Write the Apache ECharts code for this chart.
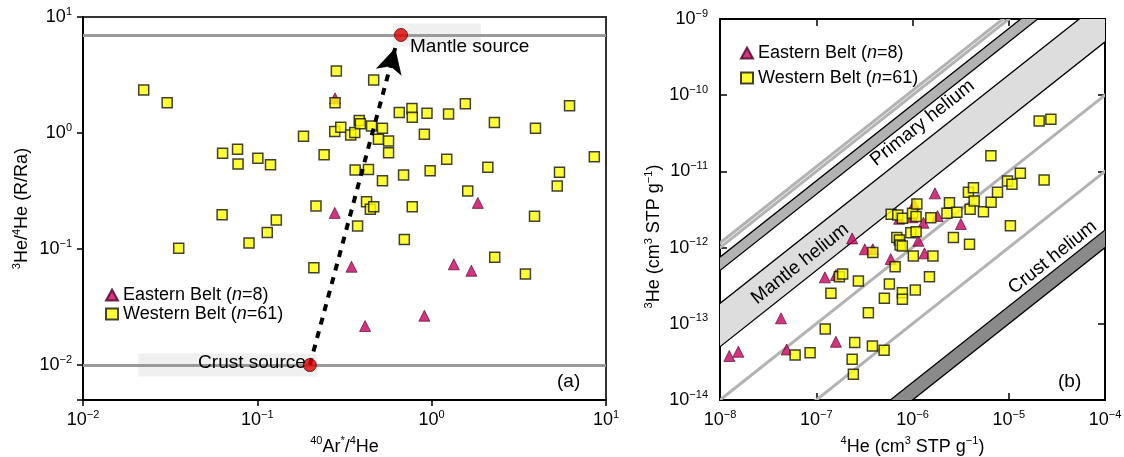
<!DOCTYPE html>
<html>
<head>
<meta charset="utf-8">
<title>helium isotopes</title>
<style>html,body{margin:0;padding:0;background:#fff}</style>
</head>
<body>
<div id="main" style="width:1124px;height:457px;"></div>
<script src="https://cdn.jsdelivr.net/npm/echarts@6/dist/echarts.min.js"></script>
<script>
// ---- panel (a): 40Ar*/4He vs 3He/4He (R/Ra)
var eastA = [[0.279,1.99],[0.278,0.205],[0.347,0.0704],[1.34,0.0738],[1.69,0.065],[1.84,0.25],[0.908,0.0266],[0.415,0.0217]];
var westA = [[0.0223,2.35],[0.0304,1.82],[0.184,0.94],[0.0632,0.668],[0.077,0.723],[0.0775,0.54],[0.1007,0.605],[0.119,0.533],
  [0.2416,0.65],[0.284,3.42],[0.279,1.82],[0.278,1.03],[0.217,0.235],[0.0628,0.198],[0.0354,0.1014],[0.0896,0.113],
  [0.114,0.139],[0.1285,0.178],[0.211,0.069],[0.465,2.86],[0.301,1.12],[0.343,0.96],[0.362,1.01],[0.384,1.28],[0.39,1.2],
  [0.452,1.15],[0.522,1.10],[0.495,0.883],[0.566,0.853],[0.566,0.676],[0.652,1.50],[0.771,1.63],[0.774,1.37],[0.94,1.48],
  [1.25,1.46],[1.56,1.79],[2.29,1.23],[3.94,1.10],[6.18,1.72],[8.57,0.625],[0.908,0.975],[1.22,0.593],[2.10,0.506],
  [5.41,0.458],[5.25,0.349],[0.364,0.48],[0.434,0.486],[0.522,0.388],[0.69,0.435],[0.98,0.473],[1.61,0.316],[0.423,0.256],
  [0.445,0.22],[0.465,0.232],[0.774,0.232],[3.89,0.192],[0.376,0.158],[0.697,0.121],[2.30,0.085],[3.45,0.0608]];
var sourcePts = [[0.667, 7], [0.2, 0.01]];
var sourceNames = ['Mantle source', 'Crust source'];
var refLevels = [7, 0.01];
var arrowEnd = [0.618, 5.4];

// ---- panel (b): 4He vs 3He
var eastB = [[1.25e-8,3.78e-14],[1.55e-8,4.3e-14],[4.3e-8,1.18e-13],[4.93e-8,4.6e-14],[1.23e-7,4.07e-13],[1.6e-7,4.37e-13],
  [1.6e-7,5.8e-14],[2.36e-7,1.32e-12],[3.19e-7,9.5e-13],[3.87e-7,9.5e-13],[5.94e-7,7.08e-13],[7.26e-7,2.39e-12],
  [1.04e-6,3.73e-12],[9.98e-7,2.5e-12],[1.15e-6,1.23e-12],[1.3e-6,2.12e-12],[1.33e-6,8.4e-13],[1.71e-6,5.15e-12],
  [1.82e-6,2.6e-12],[3.18e-6,2.04e-12]];
var westB = [[6.03e-8,3.9e-14],[8.63e-8,4.18e-14],[1.24e-7,8.55e-14],[1.42e-7,2.51e-13],[1.74e-7,4.15e-13],[1.88e-7,4.5e-13],
  [2.51e-7,5.7e-14],[2.36e-7,3.42e-14],[2.43e-7,2.17e-14],[2.74e-7,3.65e-13],[3.48e-7,1.4e-13],[3.83e-7,5.1e-14],
  [3.87e-7,8.6e-13],[5.07e-7,4.5e-14],[5.1e-7,2.16e-13],[5.75e-7,3.33e-13],[6e-7,2.73e-12],[6.6e-7,5.62e-13],
  [7.03e-7,2.68e-12],[6.87e-7,1.36e-12],[7.31e-7,1.26e-12],[7.43e-7,1.08e-12],[7.85e-7,1.05e-12],[7.85e-7,2.43e-12],
  [7.85e-7,2.56e-13],[7.85e-7,2.1e-13],[9.6e-7,1.57e-12],[1e-6,2.82e-12],[1.02e-6,7.76e-13],[1.07e-6,2.78e-13],
  [1.09e-6,1.62e-12],[1.11e-6,3.73e-12],[1.09e-6,2.55e-12],[1.5e-6,4.15e-13],[1.55e-6,2.47e-12],[1.63e-6,7.76e-13],
  [2.28e-6,2.82e-12],[2.42e-6,3.88e-12],[2.66e-6,1.36e-12],[2.89e-6,2.9e-12],[3.81e-6,5.32e-12],[3.97e-6,3.18e-12],
  [3.91e-6,1.11e-12],[4.3e-6,6.1e-12],[4.37e-6,4.09e-12],[5.46e-6,2.96e-12],[6.56e-6,3.93e-12],[6.52e-6,1.61e-11],
  [7.64e-6,5.32e-12],[9.7e-6,7.48e-12],[1.08e-5,6.78e-12],[1.04e-5,1.94e-12],[1.32e-5,9.44e-12],[2.07e-5,4.58e-11],
  [2.74e-5,4.83e-11],[2.33e-5,7.71e-12]];
// 3He/4He ratios of the reference lines and bands
var greyRatios = [1e-7, 1e-6, 1e-4, 1.15e-4];
var bandRatios = [[1e-8, 1.7e-8], [5e-6, 1.85e-5], [5e-5, 7.5e-5]];
var heliumNames = ['Primary helium', 'Mantle helium', 'Crust helium'];
var heliumRatios = [3.4e-5, 9e-6, 2.6e-8];

var FONT = 'Liberation Sans, Arial, sans-serif';
var bandFill = ['#8a8a8a', '#dddddd', '#b2b2b2'];
var labelAt = [1.27e-6, 6.8e-8, 2.86e-5]; // 4He where each band label is centred

function pow10(v) {
  var e = Math.log10(v), r = Math.round(e);
  if (Math.abs(e - r) > 1e-6) return '';
  return '10{s|' + (r < 0 ? '\u2212' + (-r) : r) + '}';
}
var supRich = { s: { fontSize: 11, lineHeight: 11, verticalAlign: 'top', fontFamily: FONT, color: '#000' } };
var labelStyle = { formatter: pow10, fontSize: 18, lineHeight: 22, color: '#000', fontFamily: FONT, rich: supRich };
var nameStyle = { fontSize: 18, lineHeight: 22, color: '#000', fontFamily: FONT, rich: supRich };

function clipRect(params) {
  var c = params.coordSys;
  return { type: 'rect', shape: { x: c.x, y: c.y, width: c.width, height: c.height } };
}
function bandItem(params, api) {
  var lo = api.value(0), hi = api.value(1), a = 1e-10, b = 1e-2;
  return {
    type: 'polygon',
    shape: { points: [api.coord([a, lo * a]), api.coord([b, lo * b]), api.coord([b, hi * b]), api.coord([a, hi * a])] },
    style: { fill: bandFill[params.dataIndex], stroke: '#000', lineWidth: 1.3 },
    clipPath: clipRect(params)
  };
}
function greyItem(params, api) {
  var r = api.value(0), a = 1e-10, b = 1e-2;
  var p0 = api.coord([a, r * a]), p1 = api.coord([b, r * b]);
  return {
    type: 'line',
    shape: { x1: p0[0], y1: p0[1], x2: p1[0], y2: p1[1] },
    style: { stroke: '#b3b3b3', lineWidth: 3 },
    clipPath: clipRect(params)
  };
}
function textItem(params, api) {
  var x = api.value(0), r = api.value(1);
  var c = api.coord([x, r * x]), d = api.coord([x * 10, r * x * 10]);
  return {
    type: 'text', x: c[0], y: c[1],
    rotation: Math.atan2(c[1] - d[1], d[0] - c[0]),
    style: { text: heliumNames[params.dataIndex], fontSize: 19, fontFamily: FONT, fill: '#000', align: 'center', verticalAlign: 'middle' }
  };
}

var legendBase = {
  orient: 'vertical', itemWidth: 12, itemHeight: 11, selectedMode: false, padding: 0,
  data: [{ name: 'Eastern Belt', icon: 'triangle' }, { name: 'Western Belt', icon: 'rect' }],
  formatter: function (n) { return n === 'Eastern Belt' ? 'Eastern Belt ({i|n}=8)' : 'Western Belt ({i|n}=61)'; },
  textStyle: { fontSize: 18, color: '#000', fontFamily: FONT, rich: { i: { fontStyle: 'italic', fontSize: 18, fontFamily: FONT, color: '#000' } } }
};

var eastStyle = { color: '#c8005f', borderColor: '#4a0022', borderWidth: 0.8 };
var westStyle = { color: '#ffff00', borderColor: '#111', borderWidth: 1.5 };

var myChart = echarts.init(document.getElementById('main'));
var option = {
  animation: false,
  backgroundColor: '#fff',
  textStyle: { fontFamily: FONT },
  title: [
    { text: '(a)', left: 557, top: 372, padding: 0, textStyle: { fontSize: 19, fontWeight: 'normal', color: '#000', fontFamily: FONT } },
    { text: '(b)', left: 1058, top: 372, padding: 0, textStyle: { fontSize: 19, fontWeight: 'normal', color: '#000', fontFamily: FONT } }
  ],
  legend: [
    Object.assign({ left: 105, top: 286, itemGap: 1 }, legendBase),
    Object.assign({ left: 740, top: 44, itemGap: 7 }, legendBase)
  ],
  grid: [
    { left: 83, top: 17, width: 523, height: 383, show: true, borderColor: '#333', borderWidth: 2, outerBoundsMode: 'none' },
    { left: 720, top: 19, width: 385, height: 381, show: true, borderColor: '#000', borderWidth: 2, outerBoundsMode: 'none' }
  ],
  xAxis: [
    { gridIndex: 0, type: 'log', logBase: 10, min: 0.01, max: 10,
      axisLine: { lineStyle: { color: '#000', width: 2 } },
      axisTick: { length: 6, lineStyle: { color: '#000', width: 1.5 } },
      axisLabel: Object.assign({ margin: 9 }, labelStyle),
      splitLine: { show: false },
      name: '{s|40}Ar{s|*}/{s|4}He', nameLocation: 'middle', nameGap: 33, nameTextStyle: nameStyle },
    { gridIndex: 1, type: 'log', logBase: 10, min: 1e-8, max: 1e-4,
      axisLine: { lineStyle: { color: '#000', width: 2 } },
      axisTick: { inside: true, length: 7, lineStyle: { color: '#000', width: 1.5 } },
      axisLabel: Object.assign({ margin: 9 }, labelStyle),
      splitLine: { show: false },
      name: '{s|4}He (cm{s|3} STP g{s|\u22121})', nameLocation: 'middle', nameGap: 35, nameTextStyle: nameStyle },
    { gridIndex: 1, type: 'log', logBase: 10, min: 1e-8, max: 1e-4, position: 'top',
      axisLine: { show: false }, axisLabel: { show: false }, splitLine: { show: false },
      axisTick: { inside: true, length: 7, lineStyle: { color: '#000', width: 1.5 } } }
  ],
  yAxis: [
    { gridIndex: 0, type: 'log', logBase: 10, min: 0.005, max: 10,
      axisLine: { lineStyle: { color: '#000', width: 2 } },
      axisTick: { length: 6, lineStyle: { color: '#000', width: 1.5 } },
      axisLabel: Object.assign({ margin: 11 }, labelStyle),
      splitLine: { show: false },
      name: '{s|3}He/{s|4}He (R/Ra)', nameLocation: 'middle', nameGap: 50, nameTextStyle: nameStyle },
    { gridIndex: 1, type: 'log', logBase: 10, min: 1e-14, max: 1e-9,
      axisLine: { lineStyle: { color: '#000', width: 2 } },
      axisTick: { inside: true, length: 7, lineStyle: { color: '#000', width: 1.5 } },
      axisLabel: Object.assign({ margin: 12 }, labelStyle),
      splitLine: { show: false },
      name: '{s|3}He (cm{s|3} STP g{s|\u22121})', nameLocation: 'middle', nameGap: 48,
      nameTextStyle: Object.assign({ padding: [0, 54, 0, 0] }, nameStyle) },
    { gridIndex: 1, type: 'log', logBase: 10, min: 1e-14, max: 1e-9, position: 'right',
      axisLine: { show: false }, axisLabel: { show: false }, splitLine: { show: false },
      axisTick: { inside: true, length: 7, lineStyle: { color: '#000', width: 1.5 } } }
  ],
  series: [
    // reference levels of panel (a)
    { type: 'scatter', xAxisIndex: 0, yAxisIndex: 0, data: [], silent: true, z: 1,
      markLine: { symbol: 'none', silent: true, label: { show: false }, animation: false,
        lineStyle: { color: '#9a9a9a', width: 3, type: 'solid' },
        data: refLevels.map(function (v) { return { yAxis: v }; }) } },
    // pale boxes behind the source labels
    { type: 'scatter', xAxisIndex: 0, yAxisIndex: 0, silent: true, z: 2, symbol: 'rect',
      itemStyle: { color: '#ececec' },
      data: [
        { value: sourcePts[0], symbolSize: [88, 23], symbolOffset: [36, 0] },
        { value: sourcePts[1], symbolSize: [179, 23], symbolOffset: [-82, 0] }
      ] },
    // crust -> mantle arrow
    { type: 'scatter', xAxisIndex: 0, yAxisIndex: 0, data: [], silent: true, z: 3,
      markLine: { silent: true, animation: false, symbol: ['none', 'arrow'], symbolSize: [20, 25],
        label: { show: false },
        lineStyle: { color: '#000', width: 4, type: [7, 7] },
        data: [[{ coord: sourcePts[1] }, { coord: arrowEnd }]] } },
    { name: 'Eastern Belt', type: 'scatter', xAxisIndex: 0, yAxisIndex: 0, z: 4,
      symbol: 'triangle', symbolSize: 11, itemStyle: eastStyle, data: eastA },
    { name: 'Western Belt', type: 'scatter', xAxisIndex: 0, yAxisIndex: 0, z: 4,
      symbol: 'rect', symbolSize: 10, itemStyle: westStyle, data: westA },
    { type: 'scatter', xAxisIndex: 0, yAxisIndex: 0, z: 5, silent: true,
      symbol: 'circle', symbolSize: 13,
      itemStyle: { color: '#dd0000', borderColor: '#600', borderWidth: 1 },
      label: { show: true, fontSize: 19, color: '#000', opacity: 1, textBorderWidth: 0, fontFamily: FONT },
      data: [
        { value: sourcePts[0], label: { position: 'right', distance: 2, offset: [0, 12], formatter: sourceNames[0] } },
        { value: sourcePts[1], label: { position: 'left', distance: -3, offset: [0, -2], formatter: sourceNames[1] } }
      ] },

    // panel (b)
    { type: 'custom', xAxisIndex: 1, yAxisIndex: 1, z: 1, silent: true, renderItem: bandItem, data: bandRatios },
    { type: 'custom', xAxisIndex: 1, yAxisIndex: 1, z: 1, silent: true, renderItem: greyItem,
      data: greyRatios.map(function (r) { return [r, r]; }) },
    { type: 'custom', xAxisIndex: 1, yAxisIndex: 1, z: 2, silent: true, renderItem: textItem,
      data: labelAt.map(function (x, i) { return [x, heliumRatios[i]]; }) },
    { name: 'Eastern Belt', type: 'scatter', xAxisIndex: 1, yAxisIndex: 1, z: 4,
      symbol: 'triangle', symbolSize: 11, itemStyle: eastStyle, data: eastB },
    { name: 'Western Belt', type: 'scatter', xAxisIndex: 1, yAxisIndex: 1, z: 4,
      symbol: 'rect', symbolSize: 10, itemStyle: westStyle, data: westB }
  ]
};
myChart.setOption(option);
</script>
</body>
</html>
